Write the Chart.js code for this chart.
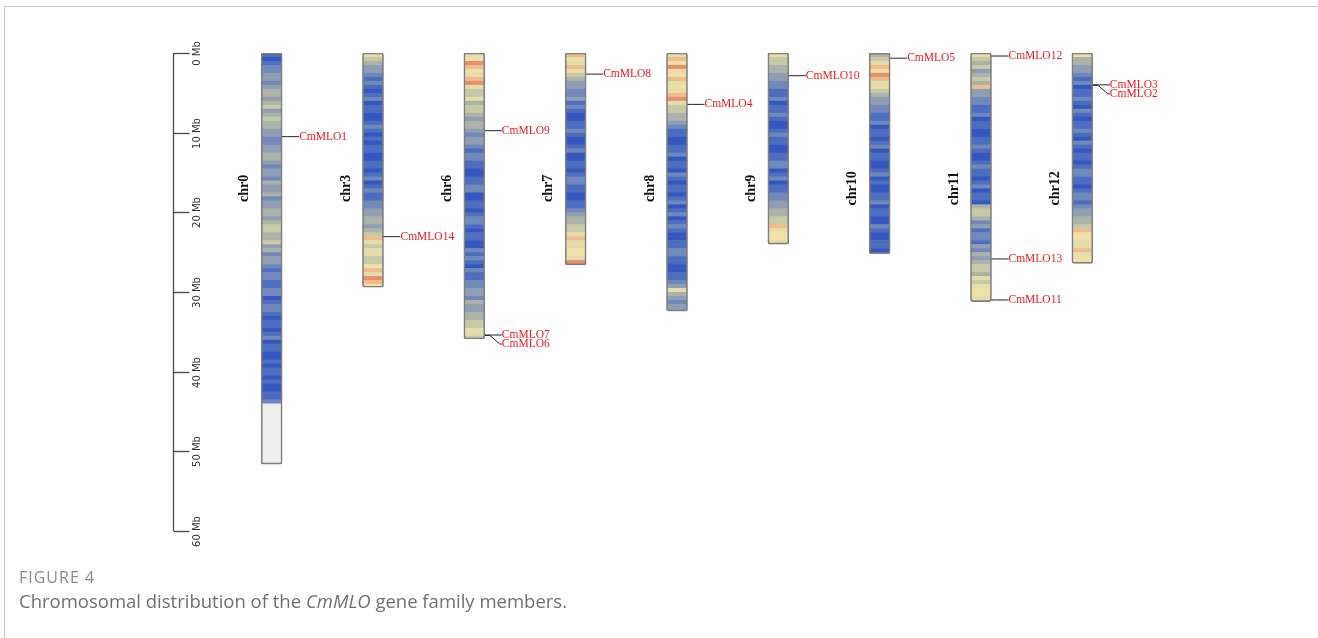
<!DOCTYPE html>
<html lang="en">
  <head>
    <meta charset="UTF-8" />
    <title>Chromosomal distribution of CmMLO genes</title>
    <script src="https://cdn.jsdelivr.net/npm/chart.js"></script>
    <style>
      html,
      body {
        margin: 0;
        padding: 0;
        background: #fff;
      }
      body {
        width: 1318px;
        height: 638px;
        position: relative;
        overflow: hidden;
      }
      .frame {
        position: absolute;
        left: 4px;
        top: 6px;
        width: 1400px;
        height: 700px;
        border-top: 1px solid #cdcdcd;
        border-left: 1px solid #cdcdcd;
      }
      #chart {
        position: absolute;
        left: 0;
        top: 0;
      }
      .caption {
        position: absolute;
        left: 19px;
        top: 568px;
        font-family: "Open Sans", sans-serif;
        color: #707070;
      }
      .caption .fig {
        font-size: 16px;
        line-height: 18px;
        letter-spacing: 1px;
        color: #8a8a8a;
      }
      .caption .txt {
        font-size: 18.5px;
        line-height: 22px;
        margin-top: 4px;
      }
    </style>
  </head>
  <body>
    <div class="frame"></div>
    <canvas id="chart" width="1318" height="638"></canvas>
    <div class="caption">
      <div class="fig">FIGURE 4</div>
      <div class="txt">Chromosomal distribution of the <i>CmMLO</i> gene family members.</div>
    </div>

    <script>
      // chromosomes and their lengths (Mb)
      const chromosomes = ["chr0", "chr3", "chr6", "chr7", "chr8", "chr9", "chr10", "chr11", "chr12"];
      const chrLengths = [51.6, 29.4, 35.9, 26.6, 32.4, 24.0, 25.2, 31.2, 26.4];

      // gene density, one entry per Mb, one digit per 0.5 Mb bin (0 = low .. 9 = high, "-" = no data)
      const binSize = 0.5;
      const densityChr0 = ["10","12","23","32","34","43","45","34","54","43","32","23","34","43","23","32","43","34","23","34","43","45","54","45","34","23","32","12","21","12","20","12","21","01","10","12","01","10","01","01","10","10","01","12","--","--","--","--","--","--","--","--"];
      const densityChr3 = ["65","43","32","12","10","12","01","10","01","21","01","01","10","01","10","12","01","21","12","23","34","43","45","86","56","65","57","86","98","7"];
      const densityChr6 = ["67","98","76","89","65","56","45","54","34","43","23","32","12","21","10","01","12","20","01","10","12","21","01","10","02","12","10","21","12","23","32","43","34","45","56","65"];
      const densityChr7 = ["87","68","65","43","32","23","12","10","01","12","10","01","20","01","10","12","21","10","01","12","34","45","56","86","67","76","98"];
      const densityChr8 = ["68","79","67","86","76","89","65","54","43","21","10","01","12","01","10","21","01","10","12","01","20","12","10","01","12","21","10","01","12","36","43","23","3"];
      const densityChr9 = ["65","54","43","32","21","12","01","12","10","01","21","10","01","12","20","12","01","12","23","34","45","58","67","76"];
      const densityChr10 = ["45","68","79","86","65","43","32","21","12","01","10","12","01","10","01","20","10","01","12","01","10","02","10","01","10","1"];
      const densityChr11 = ["65","45","34","54","83","32","21","12","01","10","01","12","10","01","21","10","12","01","10","45","54","23","12","21","32","43","45","54","65","67","76","6"];
      const densityChr12 = ["64","43","32","12","01","12","10","21","01","12","10","21","01","10","12","21","10","12","21","23","34","45","87","76","68","67","7"];
      const densityRows = [densityChr0, densityChr3, densityChr6, densityChr7, densityChr8, densityChr9, densityChr10, densityChr11, densityChr12];

      // MLO genes: name, chromosome, position (Mb)
      const geneNames = ["CmMLO1", "CmMLO14", "CmMLO9", "CmMLO7", "CmMLO6", "CmMLO8", "CmMLO4", "CmMLO10", "CmMLO5", "CmMLO12", "CmMLO13", "CmMLO11", "CmMLO3", "CmMLO2"];
      const geneChr = ["chr0", "chr3", "chr6", "chr6", "chr6", "chr7", "chr8", "chr9", "chr10", "chr11", "chr11", "chr11", "chr12", "chr12"];
      const genePos = [10.5, 23.05, 9.75, 35.4, 35.45, 2.65, 6.45, 2.85, 0.65, 0.38, 25.85, 31.0, 4.0, 4.05];

      // ruler
      const tickValues = [0, 10, 20, 30, 40, 50, 60];
      const tickLabels = ["0 Mb", "10 Mb", "20 Mb", "30 Mb", "40 Mb", "50 Mb", "60 Mb"];

      const densityColors = ["#3458c0", "#4d6ebf", "#7089ba", "#8f9eb3", "#abb3a8", "#c8c9a6", "#e4dcaa", "#efe0a8", "#efbd8d", "#e8906d"];
      const noDataColor = "#eeeeee";

      // paint the density bins inside each chromosome bar
      const densityStripes = {
        id: "densityStripes",
        beforeDatasetsDraw(chart) {
          const { ctx } = chart;
          const yScale = chart.scales.y;
          chart.getDatasetMeta(0).data.forEach((bar, i) => {
            const bins = densityRows[i].join("");
            const len = chrLengths[i];
            const left = bar.x - bar.width / 2;
            const top = Math.min(bar.y, bar.base);
            const h = Math.abs(bar.base - bar.y);
            ctx.save();
            ctx.beginPath();
            ctx.roundRect(left, top, bar.width, h, 2);
            ctx.clip();
            for (let k = 0; k * binSize < len; k++) {
              const c = bins[Math.min(k, bins.length - 1)];
              const y0 = yScale.getPixelForValue(k * binSize);
              const y1 = yScale.getPixelForValue(Math.min((k + 1) * binSize, len));
              ctx.fillStyle = c === "-" ? noDataColor : densityColors[+c];
              ctx.fillRect(left, y0, bar.width, y1 - y0 + 0.6);
            }
            ctx.restore();
          });
        },
      };

      // Mb ruler on the left
      const mbAxis = {
        id: "mbAxis",
        afterDraw(chart) {
          const { ctx, chartArea } = chart;
          const yScale = chart.scales.y;
          const ax = chartArea.left - 47.5;
          ctx.save();
          ctx.strokeStyle = "#4a4a4a";
          ctx.lineWidth = 1.3;
          ctx.beginPath();
          ctx.moveTo(ax, yScale.getPixelForValue(tickValues[0]));
          ctx.lineTo(ax, yScale.getPixelForValue(tickValues[tickValues.length - 1]));
          ctx.stroke();
          ctx.font = '10px "DejaVu Sans"';
          ctx.fillStyle = "#333";
          ctx.textAlign = "center";
          ctx.textBaseline = "middle";
          tickValues.forEach((v, i) => {
            const py = Math.round(yScale.getPixelForValue(v)) + 0.5;
            ctx.beginPath();
            ctx.moveTo(ax, py);
            ctx.lineTo(ax + 16, py);
            ctx.stroke();
            ctx.save();
            ctx.translate(ax + 24, py);
            ctx.rotate(-Math.PI / 2);
            ctx.fillText(tickLabels[i], 0, 0);
            ctx.restore();
          });
          ctx.restore();
        },
      };

      // chromosome names beside each bar
      const chrLabels = {
        id: "chrLabels",
        afterDraw(chart) {
          const { ctx } = chart;
          const yScale = chart.scales.y;
          ctx.save();
          ctx.font = 'bold 14px "Liberation Serif"';
          ctx.fillStyle = "#111";
          ctx.textAlign = "center";
          ctx.textBaseline = "middle";
          chart.getDatasetMeta(0).data.forEach((bar, i) => {
            ctx.save();
            ctx.translate(bar.x - 27, yScale.getPixelForValue(17));
            ctx.rotate(-Math.PI / 2);
            ctx.fillText(chromosomes[i], 0, 0);
            ctx.restore();
          });
          ctx.restore();
        },
      };

      // gene ticks with red names, spread apart when they crowd
      const geneLabels = {
        id: "geneLabels",
        afterDraw(chart) {
          const { ctx } = chart;
          const yScale = chart.scales.y;
          const bars = chart.getDatasetMeta(0).data;
          const items = geneNames.map((name, i) => {
            const bar = bars[chromosomes.indexOf(geneChr[i])];
            return { name, chr: geneChr[i], x: bar.x + bar.width / 2, gy: yScale.getPixelForValue(genePos[i]) };
          });
          items.sort((a, b) => (a.chr === b.chr ? a.gy - b.gy : chromosomes.indexOf(a.chr) - chromosomes.indexOf(b.chr)));
          let prev = null;
          items.forEach((it) => {
            it.ly = it.gy;
            if (prev && prev.chr === it.chr && it.ly - prev.ly < 9) it.ly = prev.ly + 9;
            prev = it;
          });
          ctx.save();
          ctx.strokeStyle = "#222";
          ctx.lineWidth = 1;
          ctx.font = '11.5px "Liberation Serif"';
          ctx.fillStyle = "#ee1a1e";
          ctx.textAlign = "left";
          ctx.textBaseline = "middle";
          items.forEach((it) => {
            ctx.beginPath();
            ctx.moveTo(it.x, it.gy);
            ctx.lineTo(it.x + 5, it.gy);
            ctx.lineTo(it.x + 15, it.ly);
            ctx.lineTo(it.x + 17, it.ly);
            ctx.stroke();
            ctx.fillText(it.name, it.x + 17, it.ly);
          });
          ctx.restore();
        },
      };

      const ctx = document.getElementById("chart").getContext("2d");
      const chart = new Chart(ctx, {
        type: "bar",
        data: {
          labels: chromosomes,
          datasets: [
            {
              data: chrLengths.map((l) => [0, l]),
              backgroundColor: "rgba(0,0,0,0)",
              borderColor: "#808080",
              borderWidth: 1,
              borderSkipped: false,
              borderRadius: 2,
              barThickness: 21,
            },
          ],
        },
        options: {
          responsive: false,
          animation: false,
          layout: { padding: { top: 53, bottom: 107, left: 221, right: 185 } },
          plugins: {
            legend: { display: false },
            tooltip: { enabled: false },
          },
          scales: {
            x: { display: false },
            y: { display: false, min: 0, max: 60, reverse: true },
          },
        },
        plugins: [densityStripes, mbAxis, chrLabels, geneLabels],
      });
    </script>
  </body>
</html>
